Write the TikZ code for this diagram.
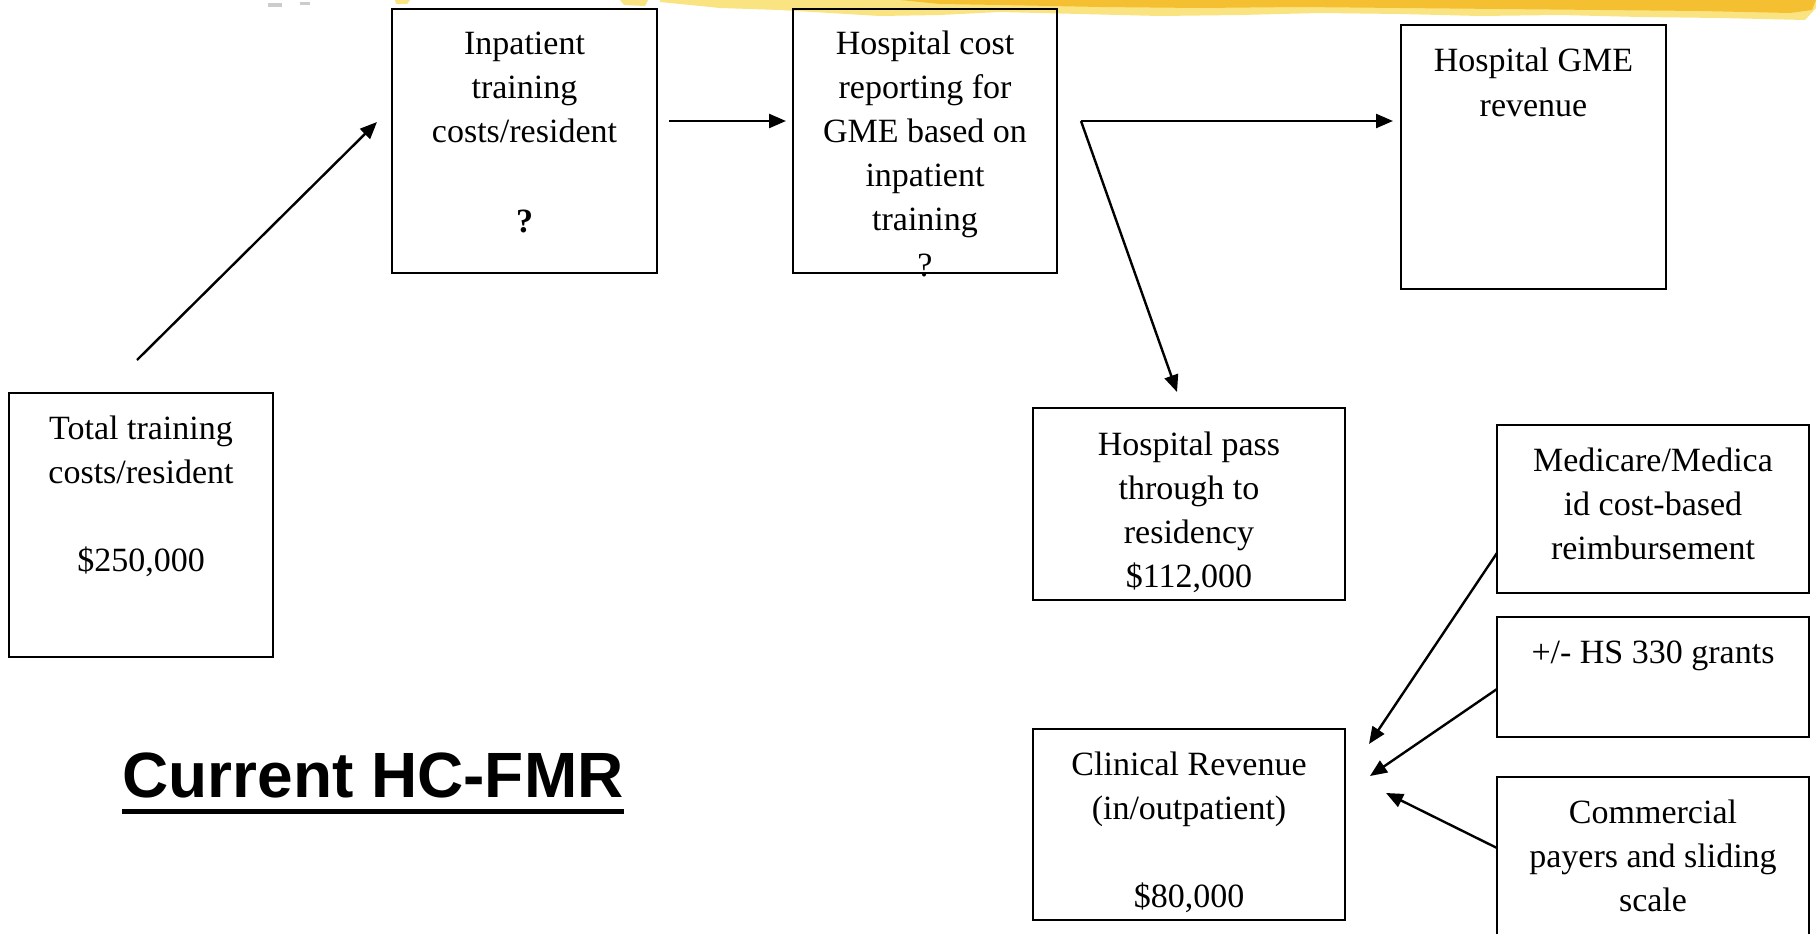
\documentclass[tikz,border=0pt]{standalone}
\usepackage{fontspec}
\setmainfont{Liberation Serif}
\newfontfamily\titlefont{Liberation Sans}
\usetikzlibrary{arrows.meta}
\definecolor{stripeA}{RGB}{250,228,130}
\definecolor{stripeB}{RGB}{244,192,50}
\newcommand\bt[1]{\parbox[t]{300pt}{\centering #1}}
\begin{document}
\begin{tikzpicture}[x=1pt,y=-1pt,
  box/.style={draw,line width=2.4pt,rectangle,inner sep=0pt},
  txt/.style={anchor=base,inner sep=0pt,font=\fontsize{34}{44}\selectfont},
  arr/.style={line width=2.4pt,-{Triangle[length=17pt,width=14pt]}}]
\useasboundingbox (0,0) rectangle (1816,934);
\clip (0,0) rectangle (1816,934);
\fill[white] (0,0) rectangle (1816,934);
% decorative stripe
\fill[stripeA] (660,0) -- (1816,0) -- (1816,8) -- (1805,20) -- (1720,18) -- (1640,17) -- (1560,15)
  -- (1480,16) -- (1400,14) -- (1320,13) -- (1240,15) -- (1160,16) -- (1080,14) -- (1000,12)
  -- (940,15) -- (880,16) -- (830,13) -- (780,10) -- (720,8) -- (690,5) -- (660,2) -- cycle;
\fill[stripeB] (900,0) -- (1816,0) -- (1812,10) -- (1790,13) -- (1700,11) -- (1600,10) -- (1500,9)
  -- (1400,8) -- (1300,7) -- (1200,8) -- (1100,7) -- (1000,5) -- (940,4) -- cycle;
\fill[stripeA] (620,0) -- (648,0) -- (645,6) -- (624,5) -- cycle;
\fill[stripeA] (395,0) -- (410,0) -- (407,4) -- (396,4) -- cycle;
\fill[gray!40] (268,3) rectangle (282,7);
\fill[gray!40] (300,2) rectangle (310,5);
% boxes
\node[box,minimum width=264pt,minimum height=264pt] (total) at (141,525) {};
\node[box,minimum width=265pt,minimum height=264pt] (inp) at (524.5,141) {};
\node[box,minimum width=264pt,minimum height=264pt] (cost) at (925,141) {};
\node[box,minimum width=265pt,minimum height=264pt] (gme) at (1533.5,157) {};
\node[box,minimum width=312pt,minimum height=192pt] (pass) at (1189,504) {};
\node[box,minimum width=312pt,minimum height=168pt] (med) at (1653,509) {};
\node[box,minimum width=312pt,minimum height=120pt] (hs) at (1653,677) {};
\node[box,minimum width=312pt,minimum height=191pt] (clin) at (1189,824.5) {};
\node[box,minimum width=312pt,minimum height=260pt] (comm) at (1653,907) {};
% texts
\node[txt] (totalt) at (141,439) {\bt{Total training\\costs/resident\\~\\\$250,000}};
\node[txt] (inpt) at (524.5,55) {\bt{Inpatient\\training\\costs/resident\\[2pt]~\\\textbf{?}}};
\node[txt] (costt) at (925,55) {\bt{Hospital cost\\reporting for\\GME based on\\inpatient\\training\\[2pt]?}};
\node[txt] (gmet) at (1533.5,72) {\bt{Hospital GME\\revenue}};
\node[txt] (passt) at (1189,455) {\bt{Hospital pass\\through to\\residency\\\$112,000}};
\node[txt] (medt) at (1653,471) {\bt{Medicare/Medica\\id cost-based\\reimbursement}};
\node[txt] (hst) at (1653,663) {\bt{+/- HS 330 grants}};
\node[txt] (clint) at (1189,775) {\bt{Clinical Revenue\\(in/outpatient)\\~\\\$80,000}};
\node[txt] (commt) at (1653,823) {\bt{Commercial\\payers and sliding\\scale}};
% title
\node[anchor=base,inner sep=0pt,font=\titlefont\bfseries\fontsize{64}{70}\selectfont] (title) at (373,797) {Current HC-FMR};
\draw[line width=5pt] ([yshift=-14pt]title.base west) -- ([yshift=-14pt]title.base east);
% connector end points
\coordinate (a1s) at (137,360);
\coordinate (a1e) at (377,122);
\coordinate (a2s) at (669,121);
\coordinate (a2e) at (786,121);
\coordinate (split) at (1081,121);
\coordinate (a3e) at (1393,121);
\coordinate (a4e) at (1177,392);
\coordinate (m1) at (1497,553);
\coordinate (c1) at (1369,744);
\coordinate (h1) at (1497,689);
\coordinate (c2) at (1370,776);
\coordinate (k1) at (1497,848);
\coordinate (c3) at (1386,793);
% arrows
\draw[arr] (a1s) -- (a1e);
\draw[arr] (a2s) -- (a2e);
\draw[arr] (split) -- (a3e);
\draw[arr] (split) -- (a4e);
\draw[arr] (m1) -- (c1);
\draw[arr] (h1) -- (c2);
\draw[arr] (k1) -- (c3);
\end{tikzpicture}
\end{document}
